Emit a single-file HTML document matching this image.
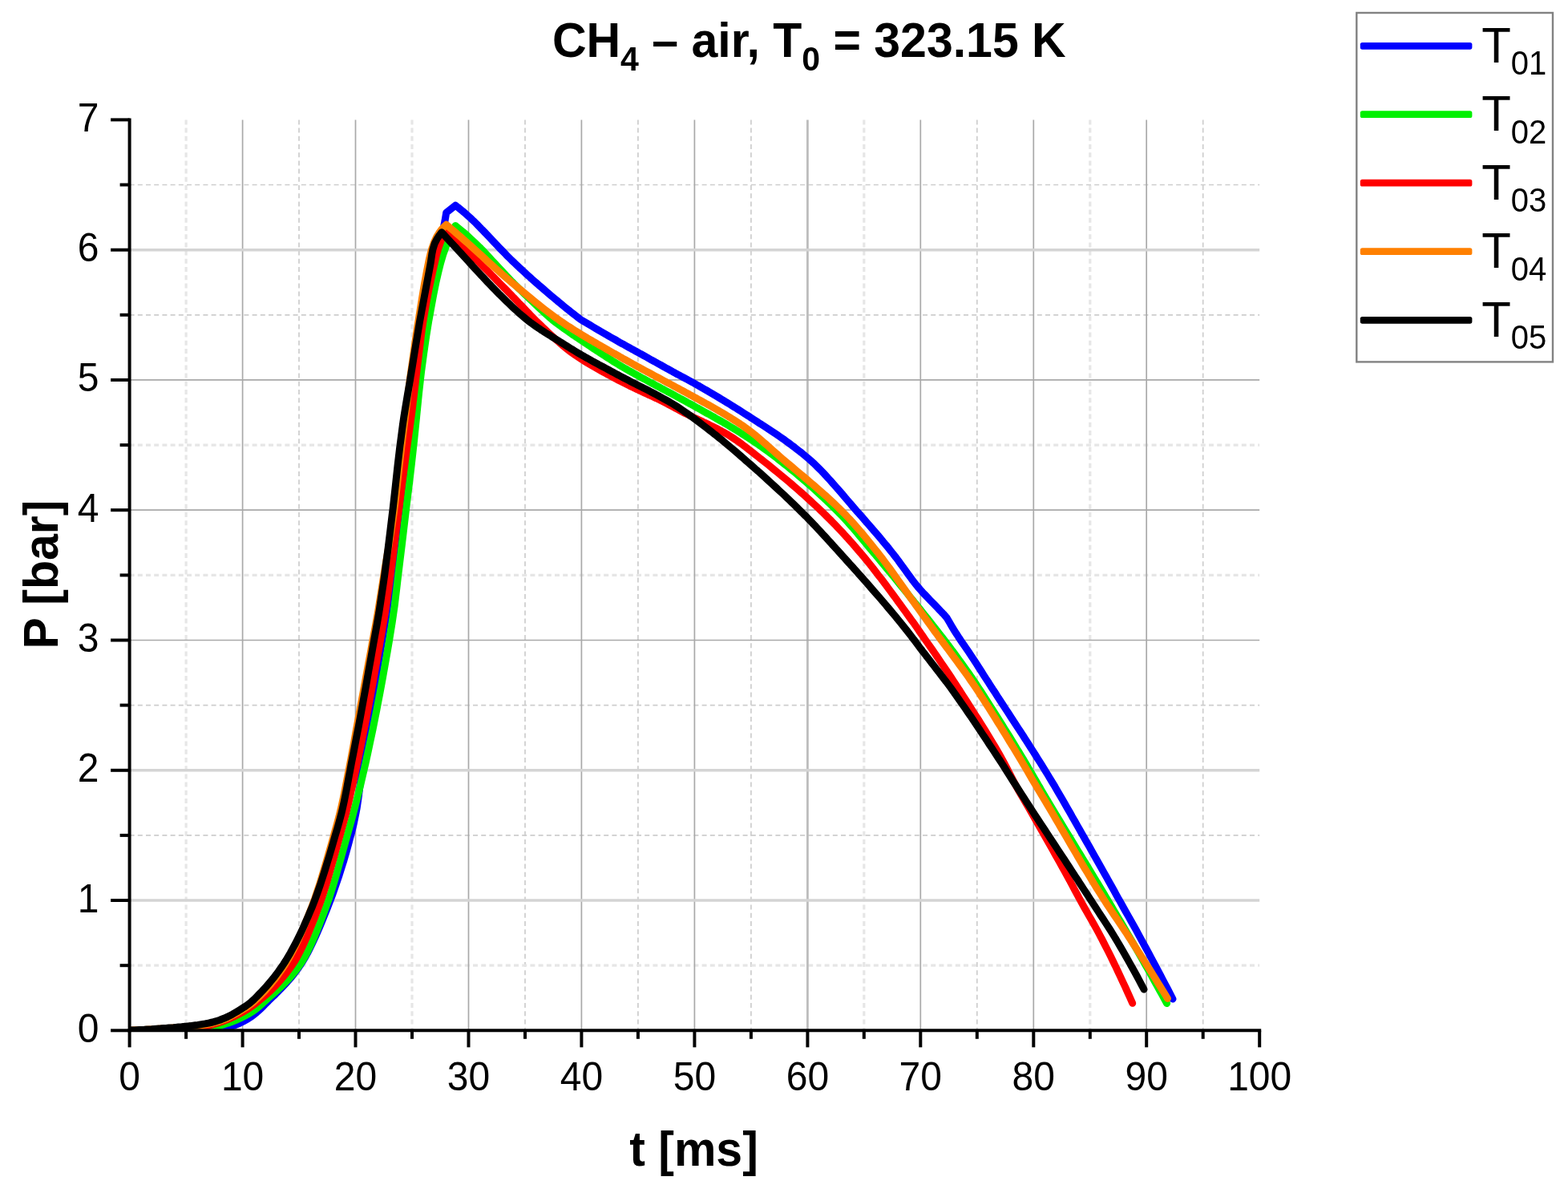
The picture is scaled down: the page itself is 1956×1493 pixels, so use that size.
<!DOCTYPE html>
<html lang="en"><head><meta charset="utf-8"><title>CH4 – air, T0 = 323.15 K</title>
<style>
html,body{margin:0;padding:0;background:#fff;}
body{width:1956px;height:1493px;overflow:hidden;}
svg{display:block;}
text{font-family:"Liberation Sans", Arial, Helvetica, sans-serif;fill:#000;}
.tick{font-size:48px;}
.lbl{font-size:59px;font-weight:bold;}
.leg{font-size:60px;}
</style></head><body>
<svg xmlns="http://www.w3.org/2000/svg" width="1956" height="1493" viewBox="0 0 1956 1493">
<rect x="0" y="0" width="1956" height="1493" fill="#ffffff"/>
<defs><filter id="soft" x="0" y="0" width="1956" height="1493" filterUnits="userSpaceOnUse" color-interpolation-filters="sRGB"><feGaussianBlur stdDeviation="0.75"/></filter></defs>
<g filter="url(#soft)">
<rect x="0" y="0" width="1956" height="1493" fill="#ffffff"/>
<g fill="none">
<line x1="232.1" y1="149.4" x2="232.1" y2="1285.3" stroke="#e6e6e6" stroke-width="3.2" stroke-dasharray="6 4.2"/>
<line x1="373.0" y1="149.4" x2="373.0" y2="1285.3" stroke="#cdcdcd" stroke-width="1.7" stroke-dasharray="6 4.2"/>
<line x1="514.0" y1="149.4" x2="514.0" y2="1285.3" stroke="#e6e6e6" stroke-width="3.2" stroke-dasharray="6 4.2"/>
<line x1="655.0" y1="149.4" x2="655.0" y2="1285.3" stroke="#cdcdcd" stroke-width="1.7" stroke-dasharray="6 4.2"/>
<line x1="795.9" y1="149.4" x2="795.9" y2="1285.3" stroke="#cdcdcd" stroke-width="1.7" stroke-dasharray="6 4.2"/>
<line x1="936.9" y1="149.4" x2="936.9" y2="1285.3" stroke="#cdcdcd" stroke-width="1.7" stroke-dasharray="6 4.2"/>
<line x1="1077.8" y1="149.4" x2="1077.8" y2="1285.3" stroke="#e6e6e6" stroke-width="3.2" stroke-dasharray="6 4.2"/>
<line x1="1218.8" y1="149.4" x2="1218.8" y2="1285.3" stroke="#cdcdcd" stroke-width="1.7" stroke-dasharray="6 4.2"/>
<line x1="1359.8" y1="149.4" x2="1359.8" y2="1285.3" stroke="#e6e6e6" stroke-width="3.2" stroke-dasharray="6 4.2"/>
<line x1="1500.7" y1="149.4" x2="1500.7" y2="1285.3" stroke="#cdcdcd" stroke-width="1.7" stroke-dasharray="6 4.2"/>
<line x1="161.6" y1="1204.2" x2="1571.2" y2="1204.2" stroke="#e6e6e6" stroke-width="3.2" stroke-dasharray="6 4.2"/>
<line x1="161.6" y1="1041.9" x2="1571.2" y2="1041.9" stroke="#cdcdcd" stroke-width="1.7" stroke-dasharray="6 4.2"/>
<line x1="161.6" y1="879.6" x2="1571.2" y2="879.6" stroke="#cdcdcd" stroke-width="1.7" stroke-dasharray="6 4.2"/>
<line x1="161.6" y1="717.4" x2="1571.2" y2="717.4" stroke="#e6e6e6" stroke-width="3.2" stroke-dasharray="6 4.2"/>
<line x1="161.6" y1="555.1" x2="1571.2" y2="555.1" stroke="#e6e6e6" stroke-width="3.2" stroke-dasharray="6 4.2"/>
<line x1="161.6" y1="392.8" x2="1571.2" y2="392.8" stroke="#cdcdcd" stroke-width="1.7" stroke-dasharray="6 4.2"/>
<line x1="161.6" y1="230.5" x2="1571.2" y2="230.5" stroke="#cdcdcd" stroke-width="1.7" stroke-dasharray="6 4.2"/>
<line x1="302.6" y1="149.4" x2="302.6" y2="1285.3" stroke="#a9a9a9" stroke-width="1.7"/>
<line x1="443.5" y1="149.4" x2="443.5" y2="1285.3" stroke="#a9a9a9" stroke-width="1.7"/>
<line x1="584.5" y1="149.4" x2="584.5" y2="1285.3" stroke="#a9a9a9" stroke-width="1.7"/>
<line x1="725.4" y1="149.4" x2="725.4" y2="1285.3" stroke="#a9a9a9" stroke-width="1.7"/>
<line x1="866.4" y1="149.4" x2="866.4" y2="1285.3" stroke="#a9a9a9" stroke-width="1.7"/>
<line x1="1007.4" y1="149.4" x2="1007.4" y2="1285.3" stroke="#bdbdbd" stroke-width="2.8"/>
<line x1="1148.3" y1="149.4" x2="1148.3" y2="1285.3" stroke="#a9a9a9" stroke-width="1.7"/>
<line x1="1289.3" y1="149.4" x2="1289.3" y2="1285.3" stroke="#a9a9a9" stroke-width="1.7"/>
<line x1="1430.2" y1="149.4" x2="1430.2" y2="1285.3" stroke="#a9a9a9" stroke-width="1.7"/>
<line x1="161.6" y1="1123.0" x2="1571.2" y2="1123.0" stroke="#d4d4d4" stroke-width="3.6"/>
<line x1="161.6" y1="960.8" x2="1571.2" y2="960.8" stroke="#d4d4d4" stroke-width="3.6"/>
<line x1="161.6" y1="798.5" x2="1571.2" y2="798.5" stroke="#a9a9a9" stroke-width="1.7"/>
<line x1="161.6" y1="636.2" x2="1571.2" y2="636.2" stroke="#a9a9a9" stroke-width="1.7"/>
<line x1="161.6" y1="473.9" x2="1571.2" y2="473.9" stroke="#a9a9a9" stroke-width="1.7"/>
<line x1="161.6" y1="311.7" x2="1571.2" y2="311.7" stroke="#d4d4d4" stroke-width="3.6"/>
</g>
<defs><clipPath id="plotclip"><rect x="161.6" y="149.4" width="1409.6" height="1135.9"/></clipPath></defs>
<g fill="none" stroke-width="9.0" stroke-linecap="round" stroke-linejoin="round" clip-path="url(#plotclip)">
<polyline stroke="#0000ff" points="161.6,1285.3 164.6,1285.3 167.7,1285.3 170.7,1285.3 173.8,1285.3 176.8,1285.3 179.8,1285.2 182.9,1285.2 185.9,1285.2 189.0,1285.2 192.0,1285.1 195.0,1285.1 198.1,1285.0 201.1,1285.0 204.1,1284.9 207.2,1284.9 210.2,1284.8 213.3,1284.8 216.3,1284.7 219.3,1284.6 222.4,1284.6 225.4,1284.5 228.5,1284.4 231.5,1284.3 234.5,1284.2 237.6,1284.1 240.6,1284.0 243.7,1283.9 246.7,1283.8 249.7,1283.7 252.8,1283.6 255.8,1283.5 258.9,1283.4 261.9,1283.2 264.9,1283.1 268.0,1283.0 270.0,1282.9 271.0,1282.8 274.1,1282.6 277.1,1282.2 280.1,1281.8 283.2,1281.3 284.9,1280.9 286.2,1280.7 289.2,1279.9 292.3,1278.9 295.3,1277.8 295.8,1277.6 298.4,1276.6 301.4,1275.1 304.4,1273.5 307.5,1271.8 307.8,1271.6 310.5,1269.9 313.6,1267.9 316.6,1265.6 319.6,1263.2 319.7,1263.1 322.7,1260.6 325.7,1257.7 328.8,1254.7 331.7,1251.7 331.8,1251.7 334.8,1248.6 337.9,1245.6 340.9,1242.6 344.0,1239.7 347.0,1236.6 350.0,1233.6 353.1,1230.4 356.1,1227.2 359.1,1223.8 362.2,1220.3 365.2,1216.6 368.3,1212.7 371.3,1208.6 374.3,1204.2 374.7,1203.7 377.4,1199.6 380.4,1194.4 383.5,1188.9 386.5,1183.0 389.5,1176.8 392.6,1170.2 395.6,1163.4 398.7,1156.3 401.7,1149.1 404.7,1141.6 407.8,1134.0 409.5,1129.7 410.8,1126.2 413.9,1118.2 416.9,1109.8 419.9,1101.1 423.0,1092.0 426.0,1082.5 429.1,1072.6 432.1,1062.2 435.1,1051.3 437.8,1041.2 438.2,1039.9 441.2,1027.6 444.2,1013.2 445.2,1007.9 447.3,993.7 450.3,969.1 451.5,960.5 453.4,946.7 456.4,925.1 459.4,904.2 462.2,886.1 462.5,884.2 465.5,865.3 468.6,847.2 471.6,829.4 474.6,811.6 477.0,797.4 477.7,793.4 480.7,775.1 482.5,763.9 483.8,754.9 486.8,731.9 488.8,716.9 489.8,709.4 492.9,687.9 495.9,666.4 499.0,644.1 499.2,641.9 502.0,620.1 505.0,594.7 508.1,568.8 511.1,543.0 513.9,520.0 514.2,518.0 517.2,492.7 519.8,473.8 520.2,471.2 523.3,456.1 526.3,442.7 528.7,429.9 529.3,425.7 532.4,402.1 532.9,398.1 535.4,380.1 538.5,358.8 541.5,340.1 541.5,339.8 544.5,323.6 547.1,311.0 547.6,309.0 550.6,295.7 551.9,290.0 553.7,282.0 555.1,275.0 556.7,265.3 568.1,256.2 571.2,258.5 574.2,261.0 577.3,263.5 580.4,266.2 583.4,268.9 586.5,271.6 589.5,274.5 591.6,276.4 592.6,277.4 595.7,280.5 598.7,283.6 600.1,285.1 601.8,286.8 604.9,290.0 607.9,293.2 611.0,296.4 614.0,299.6 617.1,302.9 620.2,306.1 623.2,309.3 626.3,312.5 629.4,315.7 632.4,318.8 635.5,321.9 638.5,324.9 640.6,326.8 641.6,327.8 644.7,330.7 647.7,333.6 650.8,336.4 653.9,339.3 656.9,342.1 660.0,344.8 663.0,347.6 666.1,350.3 669.2,353.0 672.2,355.7 675.3,358.3 678.4,361.0 681.4,363.6 684.5,366.2 687.5,368.8 690.6,371.4 693.7,373.9 696.7,376.5 699.8,379.0 700.4,379.5 702.9,381.6 705.9,384.1 709.0,386.5 712.0,389.0 715.1,391.4 718.2,393.8 721.2,396.1 724.3,398.5 727.3,400.3 730.4,402.1 733.4,403.9 736.4,405.7 739.4,407.5 742.5,409.3 745.5,411.1 748.5,412.9 751.5,414.6 754.6,416.4 757.6,418.1 760.6,419.9 763.6,421.6 766.7,423.3 769.7,425.0 770.2,425.3 772.7,426.8 775.7,428.5 778.8,430.1 781.8,431.8 784.8,433.5 787.8,435.2 790.9,436.8 793.9,438.5 796.9,440.2 798.9,441.2 799.9,441.8 803.0,443.5 806.0,445.2 809.0,446.9 812.0,448.6 815.1,450.3 818.1,451.9 821.1,453.6 824.2,455.3 827.2,457.0 830.2,458.7 833.2,460.3 836.3,462.0 839.3,463.7 842.3,465.3 845.3,467.0 848.4,468.6 850.2,469.6 851.4,470.2 854.4,471.8 857.4,473.4 859.7,474.7 860.5,475.1 863.5,476.7 866.5,478.4 869.5,480.1 872.6,481.8 875.6,483.6 878.6,485.3 881.6,487.0 884.7,488.8 887.7,490.6 890.7,492.4 893.7,494.2 896.8,496.0 899.8,497.8 902.8,499.6 905.8,501.5 908.9,503.3 911.9,505.2 914.9,507.1 918.0,509.0 921.0,510.9 924.0,512.8 927.0,514.7 929.6,516.4 930.1,516.7 933.1,518.6 936.1,520.6 939.1,522.5 942.2,524.5 945.2,526.4 948.2,528.4 951.2,530.3 954.3,532.3 957.3,534.2 960.3,536.2 963.3,538.2 966.4,540.3 969.4,542.3 972.4,544.4 975.4,546.5 978.5,548.6 981.5,550.8 984.5,553.0 987.5,555.3 990.6,557.5 993.6,559.9 996.6,562.2 999.7,564.6 1002.7,567.1 1005.7,569.6 1008.7,572.2 1009.2,572.6 1011.8,574.9 1014.8,577.6 1017.8,580.5 1020.8,583.5 1023.9,586.5 1026.9,589.7 1029.9,592.9 1032.9,596.2 1036.0,599.5 1039.0,602.9 1042.0,606.4 1045.0,609.8 1048.1,613.3 1051.1,616.8 1054.1,620.4 1057.1,623.9 1060.2,627.4 1063.2,631.0 1066.2,634.5 1069.2,637.9 1071.3,640.3 1072.3,641.4 1075.3,644.8 1078.3,648.3 1081.3,651.7 1084.4,655.2 1087.4,658.7 1090.4,662.2 1093.5,665.8 1096.5,669.3 1099.5,672.9 1102.5,676.6 1105.6,680.2 1108.6,683.9 1111.6,687.7 1113.9,690.5 1114.6,691.5 1117.7,695.4 1120.7,699.4 1123.7,703.6 1126.7,707.7 1129.8,711.9 1132.8,716.1 1135.8,720.2 1138.8,724.3 1141.9,728.2 1144.9,731.9 1145.4,732.5 1147.9,735.4 1150.9,738.8 1154.0,742.0 1157.0,745.2 1160.0,748.3 1163.0,751.4 1166.1,754.5 1169.1,757.6 1172.1,760.8 1175.1,764.0 1176.7,765.6 1178.2,767.3 1181.2,770.8 1184.3,776.1 1187.3,781.2 1190.4,786.3 1193.1,790.6 1193.5,791.1 1196.5,795.8 1199.6,800.4 1202.6,804.8 1205.7,809.3 1208.8,813.8 1209.5,814.8 1211.8,818.4 1214.9,823.1 1218.0,827.8 1221.0,832.5 1224.1,837.3 1227.1,842.1 1230.2,846.9 1233.3,851.6 1236.3,856.4 1238.5,859.8 1239.4,861.1 1242.5,865.8 1245.5,870.6 1248.6,875.3 1251.7,880.0 1254.7,884.6 1257.8,889.3 1260.8,894.0 1263.9,898.7 1267.0,903.4 1270.0,908.1 1273.1,912.8 1276.2,917.5 1279.2,922.3 1282.3,927.0 1285.3,931.8 1288.4,936.6 1291.5,941.5 1294.5,946.3 1294.5,946.3 1297.6,951.2 1300.7,956.1 1303.7,961.0 1306.8,966.0 1309.8,971.0 1312.9,976.1 1316.0,981.2 1316.5,982.1 1319.0,986.4 1322.1,991.7 1325.2,997.0 1326.9,1000.0 1328.2,1002.3 1331.3,1007.7 1334.4,1013.0 1337.4,1018.4 1340.5,1023.7 1343.5,1029.1 1346.6,1034.5 1349.7,1039.9 1352.7,1045.3 1355.8,1050.7 1358.9,1056.1 1361.9,1061.5 1365.0,1066.9 1368.0,1072.3 1371.1,1077.8 1374.2,1083.2 1377.2,1088.7 1380.3,1094.1 1383.1,1099.1 1383.4,1099.6 1386.4,1105.0 1389.5,1110.5 1392.5,1116.1 1395.6,1121.6 1395.8,1121.9 1398.7,1127.0 1401.7,1132.5 1404.8,1137.9 1407.9,1143.4 1410.9,1148.8 1414.0,1154.3 1417.1,1159.8 1420.1,1165.4 1422.8,1170.3 1423.2,1171.0 1426.2,1176.6 1429.3,1182.2 1432.4,1187.9 1435.4,1193.6 1438.5,1199.3 1441.6,1205.1 1444.6,1210.8 1447.7,1216.6 1450.7,1222.5 1453.8,1228.3 1456.9,1234.2 1459.9,1240.1 1463.0,1246.0"/>
<polyline stroke="#00f000" points="161.6,1285.3 164.6,1285.3 167.7,1285.3 170.7,1285.3 173.7,1285.3 176.8,1285.2 179.8,1285.2 182.8,1285.2 185.9,1285.2 188.9,1285.1 191.9,1285.1 195.0,1285.0 198.0,1285.0 201.0,1284.9 204.1,1284.8 207.1,1284.8 210.1,1284.7 213.2,1284.6 216.2,1284.5 219.2,1284.4 222.3,1284.3 225.3,1284.2 228.3,1284.1 231.4,1284.0 234.4,1283.8 237.4,1283.7 240.5,1283.6 243.5,1283.4 246.5,1283.3 249.6,1283.1 252.6,1282.9 255.6,1282.8 258.7,1282.6 260.0,1282.5 261.7,1282.3 264.7,1281.9 267.8,1281.2 270.8,1280.4 273.8,1279.5 276.9,1278.5 279.9,1277.6 279.9,1277.6 282.9,1276.6 286.0,1275.6 289.0,1274.5 292.0,1273.3 295.1,1272.0 298.1,1270.7 301.1,1269.3 301.7,1269.1 304.2,1267.8 307.2,1266.2 310.2,1264.5 313.3,1262.7 316.3,1260.7 319.3,1258.5 319.7,1258.3 322.4,1256.1 325.4,1253.4 327.0,1252.0 328.4,1250.6 331.5,1247.8 334.5,1245.2 337.5,1242.5 340.6,1239.8 343.6,1237.1 346.6,1234.4 349.7,1231.5 352.7,1228.6 355.7,1225.6 358.8,1222.4 361.8,1219.1 364.9,1215.5 367.9,1211.8 370.9,1207.9 373.9,1203.7 374.0,1203.6 377.0,1199.0 380.0,1193.8 383.1,1188.1 386.1,1181.9 389.1,1175.3 392.2,1168.4 395.2,1161.1 398.2,1153.5 401.3,1145.7 404.3,1137.7 407.2,1129.7 407.3,1129.5 410.4,1120.9 413.4,1111.5 416.4,1101.6 419.5,1091.2 422.5,1080.4 425.5,1069.5 428.6,1058.4 431.6,1047.5 433.3,1041.4 434.6,1036.7 437.7,1025.7 440.7,1014.5 442.4,1008.0 443.7,1002.9 446.8,990.9 449.8,978.6 452.8,965.8 454.1,960.3 455.9,952.5 458.9,938.8 461.9,924.6 465.0,910.0 468.0,894.9 469.8,885.9 471.0,879.5 474.1,863.5 477.1,847.1 480.1,830.2 483.2,812.8 485.8,797.4 486.2,794.9 489.2,776.2 491.0,763.9 492.3,754.8 495.3,729.7 496.8,716.8 498.3,704.4 501.4,679.2 504.4,653.7 505.8,642.0 507.4,628.2 510.5,603.2 513.5,577.6 516.0,554.8 516.5,550.2 519.6,520.0 519.6,520.0 522.6,489.8 524.4,473.8 525.6,463.5 528.7,440.4 531.7,419.6 534.7,400.8 535.2,398.1 537.8,383.6 540.8,367.5 543.8,352.5 546.9,339.0 549.6,328.1 549.9,327.1 552.9,317.0 554.9,311.4 556.0,308.5 559.0,300.6 562.0,293.4 565.1,287.0 568.1,281.5 571.1,283.9 574.1,286.4 577.2,288.9 580.2,291.5 583.2,294.2 586.2,297.0 589.2,299.8 592.2,302.6 595.3,305.5 598.3,308.4 599.4,309.6 601.3,311.4 604.3,314.6 607.3,317.9 610.4,321.2 613.4,324.5 614.6,325.8 616.4,327.7 619.4,330.9 622.4,334.1 625.5,337.4 628.5,340.6 631.5,343.8 634.5,346.9 637.5,350.1 640.2,352.8 640.5,353.2 643.6,356.2 646.6,359.2 649.6,362.1 652.6,365.1 655.6,368.0 658.7,370.8 660.1,372.2 661.7,373.7 664.7,376.6 667.7,379.4 670.7,382.3 673.8,385.1 676.8,387.9 679.8,390.7 682.8,393.4 685.8,396.1 688.8,398.7 691.9,401.2 692.4,401.6 694.9,403.5 697.9,405.7 700.0,407.2 700.9,407.9 703.9,410.0 707.0,412.2 710.0,414.3 713.0,416.4 716.0,418.4 719.0,420.5 722.1,422.5 725.1,424.6 728.1,426.6 731.1,428.6 734.1,430.6 737.1,432.6 740.2,434.6 743.2,436.6 746.2,438.5 749.2,440.5 751.6,442.1 752.2,442.5 755.3,444.4 758.3,446.4 761.3,448.3 764.3,450.3 767.3,452.1 770.4,454.0 770.4,454.0 773.4,455.8 776.4,457.6 779.4,459.3 782.4,461.0 785.4,462.8 788.5,464.5 791.5,466.2 794.5,467.8 797.5,469.5 800.5,471.2 803.6,472.8 806.6,474.4 809.6,476.1 812.6,477.7 815.6,479.3 818.7,480.9 821.7,482.5 824.7,484.2 827.7,485.8 830.7,487.4 833.7,489.0 836.8,490.6 839.8,492.2 842.8,493.9 845.8,495.5 848.8,497.1 850.0,497.8 851.9,498.8 854.9,500.4 857.9,502.1 857.9,502.1 860.9,503.7 863.9,505.4 867.0,507.1 870.0,508.8 873.0,510.4 876.0,512.1 879.0,513.8 882.0,515.5 885.1,517.1 888.1,518.8 891.1,520.5 894.1,522.3 897.1,524.0 900.2,525.7 903.2,527.5 906.2,529.2 909.2,531.0 912.2,532.8 915.3,534.6 918.3,536.5 921.3,538.3 924.3,540.2 927.3,542.1 928.2,542.7 930.3,544.1 933.4,546.0 936.4,548.0 939.4,550.0 942.4,552.1 945.4,554.1 948.5,556.2 951.5,558.4 954.5,560.5 957.5,562.7 960.5,564.9 963.6,567.2 966.6,569.5 969.6,571.8 970.7,572.6 972.6,574.1 975.6,576.5 978.6,578.9 981.7,581.3 984.7,583.7 987.7,586.2 990.7,588.6 993.7,591.1 996.8,593.7 999.8,596.2 1002.8,598.8 1005.8,601.4 1008.8,604.1 1011.8,606.7 1014.9,609.4 1017.9,612.1 1020.9,614.9 1023.9,617.7 1026.9,620.5 1030.0,623.3 1033.0,626.2 1036.0,629.1 1039.0,632.1 1042.0,635.0 1045.1,638.1 1047.5,640.6 1048.1,641.1 1051.1,644.2 1054.1,647.5 1057.1,650.8 1060.1,654.2 1063.2,657.6 1066.2,661.1 1069.2,664.7 1072.2,668.3 1075.2,671.9 1078.3,675.5 1081.3,679.1 1084.3,682.8 1087.3,686.4 1090.3,690.0 1090.5,690.2 1093.4,693.6 1096.4,697.2 1099.4,700.8 1102.4,704.4 1105.4,708.0 1108.4,711.7 1111.5,715.3 1114.5,719.0 1117.5,722.7 1120.5,726.4 1123.5,730.1 1126.6,733.8 1129.6,737.5 1132.6,741.2 1135.6,745.0 1138.6,748.7 1141.0,751.6 1141.7,752.4 1144.7,756.2 1147.7,759.9 1150.7,763.7 1153.7,767.5 1156.7,771.2 1159.8,775.0 1162.8,778.9 1165.8,782.7 1168.8,786.5 1171.8,790.4 1173.9,793.1 1174.9,794.3 1177.9,798.2 1180.9,802.2 1183.9,806.1 1186.9,810.2 1188.4,812.1 1190.0,814.2 1193.0,818.3 1196.0,822.5 1199.0,826.6 1202.0,830.8 1205.0,835.0 1208.1,839.3 1211.1,843.7 1212.8,846.1 1214.1,848.1 1217.1,852.6 1220.1,857.2 1222.0,860.0 1223.2,861.8 1226.2,866.5 1229.2,871.2 1232.2,875.9 1235.2,880.6 1238.3,885.4 1241.3,890.1 1244.3,894.9 1247.3,899.7 1250.3,904.5 1253.3,909.3 1256.4,914.2 1259.4,919.0 1262.4,923.9 1265.4,928.8 1268.4,933.8 1271.5,938.7 1274.5,943.7 1276.1,946.3 1277.5,948.7 1280.5,953.8 1283.5,959.0 1286.6,964.1 1289.6,969.4 1292.6,974.6 1295.6,979.7 1296.9,981.9 1298.6,984.9 1301.6,990.0 1304.7,995.2 1307.5,999.9 1307.7,1000.3 1310.7,1005.3 1313.7,1010.4 1316.7,1015.4 1319.8,1020.4 1322.8,1025.4 1325.8,1030.3 1328.8,1035.3 1331.8,1040.2 1334.9,1045.2 1337.9,1050.1 1340.9,1055.1 1343.9,1060.0 1346.9,1064.9 1349.9,1069.9 1353.0,1074.8 1356.0,1079.8 1359.0,1084.8 1362.0,1089.8 1365.0,1094.8 1367.6,1099.1 1368.1,1099.8 1371.1,1104.8 1374.1,1109.8 1377.1,1114.9 1380.1,1120.0 1381.3,1121.9 1383.2,1125.0 1386.2,1130.1 1389.2,1135.2 1392.2,1140.3 1395.2,1145.3 1398.2,1150.4 1401.3,1155.6 1404.3,1160.7 1407.3,1165.9 1409.8,1170.3 1410.3,1171.1 1413.3,1176.3 1416.4,1181.6 1419.4,1186.8 1422.4,1192.1 1425.4,1197.4 1428.4,1202.7 1431.5,1208.1 1434.5,1213.4 1437.5,1218.8 1440.5,1224.2 1443.5,1229.6 1446.5,1235.1 1449.6,1240.5 1452.6,1246.0 1455.6,1251.5"/>
<polyline stroke="#ff0000" points="161.6,1285.3 164.6,1285.3 167.7,1285.3 170.7,1285.3 173.8,1285.2 176.8,1285.2 179.8,1285.2 182.9,1285.1 185.9,1285.1 188.9,1285.0 192.0,1284.9 195.0,1284.8 198.1,1284.7 201.1,1284.6 204.1,1284.5 207.2,1284.4 210.2,1284.3 213.2,1284.2 216.3,1284.1 219.3,1283.9 222.4,1283.8 225.4,1283.6 228.4,1283.5 231.5,1283.3 234.5,1283.1 237.5,1282.9 239.9,1282.8 240.6,1282.8 243.6,1282.5 246.7,1282.1 249.7,1281.6 252.7,1281.0 255.8,1280.3 258.8,1279.6 261.8,1278.8 264.9,1278.0 267.8,1277.2 267.9,1277.2 271.0,1276.3 274.0,1275.3 277.0,1274.3 280.1,1273.1 283.1,1271.9 286.1,1270.6 289.2,1269.2 292.2,1267.8 295.3,1266.3 298.3,1264.7 301.3,1263.1 301.6,1263.0 304.4,1261.5 307.4,1259.7 310.4,1257.7 313.5,1255.6 316.5,1253.4 319.1,1251.4 319.6,1251.0 322.6,1248.6 325.6,1246.1 328.7,1243.5 331.7,1240.9 334.7,1238.1 337.8,1235.3 340.8,1232.3 343.9,1229.2 346.9,1225.9 349.9,1222.5 353.0,1218.9 356.0,1215.2 359.0,1211.3 362.1,1207.1 364.5,1203.7 365.1,1202.8 368.2,1198.0 371.2,1192.7 374.2,1186.9 377.3,1180.7 380.3,1174.1 383.4,1167.1 386.4,1159.8 389.4,1152.3 392.5,1144.5 395.5,1136.5 398.0,1129.7 398.5,1128.4 401.6,1119.7 404.6,1110.4 407.7,1100.4 410.7,1090.1 413.7,1079.4 416.8,1068.5 419.8,1057.5 422.8,1046.5 424.3,1041.4 425.9,1035.6 428.9,1024.6 432.0,1013.0 433.2,1007.9 435.0,1000.6 438.0,987.2 441.1,973.3 443.8,960.4 444.1,959.0 447.1,944.6 450.2,929.8 453.2,914.7 456.3,899.3 458.8,885.9 459.3,883.4 462.3,867.1 465.4,850.3 468.4,833.2 471.4,815.9 474.5,798.6 474.7,797.4 477.5,781.5 480.5,763.9 480.6,763.4 483.6,742.6 486.6,720.2 487.1,716.8 489.7,697.1 492.7,673.1 495.7,649.1 496.7,642.0 498.8,625.6 501.8,602.1 504.9,578.9 507.9,556.3 508.1,554.9 510.9,535.1 513.0,519.9 514.0,512.6 517.0,487.1 518.6,473.7 520.0,462.0 523.1,436.7 526.1,412.9 528.3,398.1 529.2,392.8 532.2,375.5 535.2,359.9 538.3,345.5 541.3,331.9 542.2,328.0 544.3,318.5 546.3,311.5 547.4,308.0 550.4,299.5 553.5,292.6 556.5,288.0 559.5,290.8 562.5,293.7 565.5,296.5 568.6,299.4 571.6,302.3 574.6,305.2 577.6,308.1 580.6,311.0 583.6,313.9 586.6,316.8 589.7,319.7 592.7,322.7 595.7,325.6 598.7,328.6 599.8,329.6 601.7,331.6 604.7,334.6 607.8,337.6 610.8,340.6 613.8,343.6 616.8,346.7 619.8,349.7 622.8,352.8 625.8,355.9 628.9,359.0 631.9,362.0 634.9,365.1 637.9,368.2 639.7,370.1 640.9,371.3 643.9,374.4 646.9,377.6 650.0,380.7 653.0,383.9 656.0,387.1 659.0,390.2 662.0,393.3 665.0,396.4 668.0,399.4 670.1,401.4 671.1,402.4 674.1,405.3 677.1,408.2 680.1,411.1 683.1,414.0 686.1,416.8 689.2,419.6 692.2,422.3 695.2,425.0 698.2,427.6 700.1,429.2 701.2,430.2 704.2,432.7 707.2,435.2 710.3,437.6 713.3,439.9 715.3,441.3 716.3,442.0 719.3,444.0 722.3,446.0 725.3,448.0 728.3,449.9 731.4,451.8 734.4,453.6 737.4,455.4 740.4,457.2 743.4,458.9 746.4,460.6 749.4,462.3 752.5,464.0 755.5,465.6 758.5,467.3 761.5,468.9 764.5,470.5 767.5,472.1 770.4,473.6 770.5,473.7 773.6,475.3 776.6,476.8 779.6,478.3 782.6,479.8 785.6,481.3 788.6,482.7 791.7,484.2 794.7,485.6 797.7,487.0 800.7,488.4 803.7,489.8 806.7,491.2 809.7,492.6 812.8,494.0 815.8,495.4 818.8,496.8 821.8,498.3 824.8,499.8 827.8,501.3 830.6,502.7 830.8,502.8 833.9,504.4 836.9,506.0 839.9,507.6 842.9,509.3 845.9,510.9 848.9,512.5 850.4,513.3 851.9,514.1 855.0,515.6 858.0,517.1 861.0,518.6 864.0,520.1 867.0,521.5 870.0,522.9 873.1,524.3 876.1,525.7 879.1,527.2 882.1,528.6 885.1,530.1 888.1,531.5 891.1,533.0 894.2,534.6 897.2,536.2 900.2,537.8 903.2,539.5 906.2,541.2 908.7,542.7 909.2,543.0 912.2,544.9 915.3,546.9 918.3,548.9 921.3,551.0 924.3,553.2 927.3,555.5 930.3,557.7 933.3,560.1 936.4,562.4 939.4,564.8 942.4,567.2 945.4,569.5 948.4,571.9 949.3,572.6 951.4,574.3 954.5,576.7 957.5,579.1 960.5,581.5 963.5,584.0 966.5,586.4 969.5,588.9 972.5,591.4 975.6,593.9 978.6,596.4 981.6,598.9 984.6,601.4 987.6,604.0 990.6,606.6 993.6,609.2 996.7,611.9 999.7,614.5 1002.7,617.2 1005.7,619.9 1008.7,622.6 1011.7,625.4 1014.7,628.2 1017.8,631.0 1020.8,633.8 1023.8,636.7 1026.8,639.6 1027.9,640.6 1029.8,642.5 1032.8,645.5 1035.9,648.5 1038.9,651.6 1041.9,654.7 1044.9,657.8 1047.9,661.0 1050.9,664.2 1053.9,667.5 1057.0,670.8 1060.0,674.2 1063.0,677.6 1066.0,681.0 1069.0,684.5 1072.0,688.0 1074.2,690.5 1075.0,691.5 1078.1,695.1 1081.1,698.8 1084.1,702.5 1087.1,706.3 1090.1,710.1 1093.1,714.0 1096.1,717.9 1099.2,721.8 1102.2,725.8 1105.2,729.8 1108.2,733.9 1111.2,737.9 1114.2,742.0 1117.3,746.1 1120.3,750.3 1123.3,754.4 1126.3,758.6 1129.3,762.7 1132.3,766.9 1135.3,771.0 1136.6,772.8 1138.4,775.2 1141.4,779.4 1144.4,783.7 1147.4,788.1 1150.4,792.4 1150.8,792.9 1153.4,796.7 1156.4,801.0 1159.5,805.3 1162.5,809.6 1164.2,812.1 1165.5,814.0 1168.5,818.4 1171.5,822.8 1174.5,827.2 1177.5,831.6 1180.6,836.1 1183.6,840.6 1186.6,845.1 1187.2,846.0 1189.6,849.7 1192.6,854.3 1195.6,858.9 1196.4,860.1 1198.7,863.6 1201.7,868.3 1204.7,873.0 1207.7,877.7 1210.7,882.4 1213.7,887.1 1216.7,891.8 1219.8,896.5 1222.8,901.3 1225.8,906.1 1228.8,910.9 1231.8,915.8 1234.8,920.8 1237.8,925.8 1240.9,930.9 1243.9,936.0 1246.9,941.3 1249.8,946.4 1249.9,946.6 1252.9,952.1 1255.9,957.9 1258.9,963.8 1262.0,969.8 1265.0,975.6 1268.0,981.2 1268.2,981.6 1271.0,986.6 1274.0,991.7 1277.0,996.8 1279.0,1000.3 1280.0,1002.0 1283.1,1007.3 1286.1,1012.5 1289.1,1017.8 1292.1,1023.0 1295.1,1028.3 1298.1,1033.6 1301.2,1038.9 1304.2,1044.2 1307.2,1049.5 1310.2,1054.8 1313.2,1060.1 1316.2,1065.5 1319.2,1070.9 1322.3,1076.3 1325.3,1081.7 1328.3,1087.1 1331.3,1092.6 1334.3,1098.1 1335.0,1099.3 1337.3,1103.6 1340.3,1109.3 1343.4,1115.0 1346.4,1120.6 1347.0,1121.7 1349.4,1126.1 1352.4,1131.5 1355.4,1136.8 1358.4,1142.1 1361.4,1147.3 1364.5,1152.7 1367.5,1158.1 1370.5,1163.6 1373.5,1169.3 1374.1,1170.4 1376.5,1175.1 1379.5,1181.0 1382.6,1187.0 1385.6,1193.0 1388.6,1199.2 1391.6,1205.4 1394.6,1211.7 1397.6,1218.1 1400.6,1224.6 1403.7,1231.1 1406.7,1237.8 1409.7,1244.5 1412.7,1251.3"/>
<polyline stroke="#ff8000" points="161.6,1285.3 164.6,1285.2 167.7,1285.0 170.7,1284.9 173.8,1284.7 176.8,1284.6 179.8,1284.4 182.9,1284.2 185.9,1284.0 189.0,1283.9 192.0,1283.7 195.0,1283.5 198.1,1283.3 200.0,1283.2 201.1,1283.1 204.1,1282.9 207.2,1282.7 210.2,1282.5 213.3,1282.3 216.3,1282.1 219.3,1281.9 222.4,1281.7 225.4,1281.4 228.5,1281.2 231.4,1280.9 231.5,1280.9 234.5,1280.6 237.6,1280.3 240.6,1280.0 243.7,1279.7 246.7,1279.3 249.7,1278.9 252.8,1278.5 255.8,1278.0 258.9,1277.5 261.5,1277.0 261.9,1276.9 264.9,1276.3 268.0,1275.5 271.0,1274.6 274.1,1273.6 277.1,1272.5 279.7,1271.6 280.1,1271.4 283.2,1270.1 286.2,1268.7 289.2,1267.1 292.3,1265.4 295.3,1263.7 298.4,1261.8 301.4,1260.0 301.9,1259.7 304.4,1258.2 307.5,1256.3 310.5,1254.2 313.6,1251.9 314.1,1251.4 316.6,1249.4 319.6,1246.7 322.7,1243.9 325.7,1240.9 328.8,1237.7 331.8,1234.4 334.8,1230.9 337.9,1227.3 340.9,1223.5 344.0,1219.6 347.0,1215.5 350.0,1211.2 353.1,1206.8 355.1,1203.7 356.1,1202.1 359.1,1197.2 362.2,1191.8 365.2,1186.0 368.3,1179.9 371.3,1173.5 374.3,1166.8 377.4,1159.8 380.4,1152.5 383.5,1145.0 386.5,1137.3 389.5,1129.7 389.5,1129.5 392.6,1121.2 395.6,1112.3 398.7,1102.9 401.7,1093.1 404.7,1083.0 407.8,1072.5 410.8,1061.9 413.9,1051.2 416.6,1041.4 416.9,1040.4 419.9,1029.6 423.0,1018.2 425.5,1007.8 426.0,1005.7 429.1,991.5 432.1,976.2 435.1,960.5 435.2,960.4 438.2,944.6 441.2,928.2 444.2,911.6 447.3,894.9 448.9,886.0 450.3,878.4 453.4,861.9 456.4,845.4 459.4,829.0 462.5,812.5 465.2,797.4 465.5,795.9 468.6,779.6 471.4,763.9 471.6,762.7 474.6,744.1 477.7,724.7 478.9,716.9 480.7,706.0 483.8,688.1 486.8,669.9 489.8,650.1 491.0,641.9 492.9,627.4 495.9,601.0 499.0,573.6 501.1,554.9 502.0,547.9 505.0,523.9 505.5,520.0 508.1,499.4 511.1,475.5 511.3,473.7 514.2,453.2 517.2,431.8 520.2,411.4 522.3,398.1 523.3,392.1 526.3,373.2 529.3,355.2 532.4,338.4 534.5,328.0 535.4,323.4 538.3,311.4 538.5,311.0 541.5,302.4 543.9,297.2 544.5,295.9 547.6,290.7 550.0,287.4 550.6,286.5 553.7,283.0 556.7,280.2 559.7,282.7 562.7,285.3 565.8,287.9 568.8,290.5 571.8,293.1 574.8,295.7 577.8,298.4 580.9,301.1 583.9,303.7 586.9,306.4 589.9,309.1 592.9,311.8 596.0,314.6 599.0,317.3 599.8,318.0 602.0,320.1 605.0,322.9 608.0,325.7 609.3,326.8 611.1,328.4 614.1,331.1 617.1,333.8 620.1,336.5 623.1,339.2 626.1,341.8 629.2,344.5 632.2,347.1 635.2,349.7 638.2,352.2 640.4,354.0 641.2,354.7 644.3,357.2 647.3,359.8 650.3,362.3 653.3,364.8 656.3,367.3 659.4,369.8 662.4,372.3 665.4,374.7 668.4,377.2 671.4,379.6 674.5,382.0 677.5,384.4 680.5,386.7 683.5,389.0 686.5,391.3 689.6,393.6 692.6,395.8 695.6,397.9 698.6,400.1 700.8,401.5 701.6,402.1 704.7,404.2 707.7,406.2 710.7,408.1 713.7,410.1 716.7,412.0 719.8,413.9 722.8,415.7 725.8,417.6 728.8,419.4 731.8,421.2 734.8,423.0 737.9,424.7 740.9,426.5 743.9,428.2 746.9,430.0 749.9,431.7 753.0,433.4 756.0,435.1 759.0,436.9 762.0,438.6 765.0,440.3 766.8,441.3 768.1,442.0 771.1,443.7 774.1,445.5 777.1,447.2 780.1,448.8 783.2,450.5 786.2,452.2 789.2,453.9 792.2,455.5 795.2,457.2 798.3,458.8 801.3,460.5 804.3,462.1 807.3,463.7 810.3,465.3 813.4,467.0 816.4,468.6 819.4,470.2 822.4,471.8 825.4,473.4 828.5,475.1 831.5,476.7 834.5,478.3 837.5,479.9 840.5,481.5 843.5,483.1 846.6,484.8 849.6,486.4 850.1,486.6 852.6,488.0 855.6,489.6 858.6,491.2 859.8,491.9 861.7,492.9 864.7,494.6 867.7,496.2 870.7,497.9 873.7,499.5 876.8,501.2 879.8,502.9 882.8,504.5 885.8,506.2 888.8,507.9 891.9,509.6 894.9,511.3 897.9,513.1 900.9,514.8 903.9,516.6 907.0,518.5 910.0,520.3 913.0,522.2 916.0,524.1 919.0,526.0 922.1,528.0 925.1,530.1 928.1,532.1 929.5,533.2 931.1,534.3 934.1,536.5 937.2,538.8 940.2,541.2 943.2,543.6 946.2,546.2 949.2,548.7 952.2,551.3 955.3,554.0 958.3,556.6 961.3,559.3 964.3,562.0 967.3,564.7 970.4,567.3 973.4,570.0 975.8,572.1 976.4,572.6 979.4,575.2 982.4,577.7 985.5,580.3 988.5,582.8 991.5,585.4 994.5,587.9 997.5,590.4 1000.6,592.9 1003.6,595.5 1006.6,598.0 1009.6,600.6 1012.6,603.1 1015.7,605.7 1018.7,608.3 1021.7,611.0 1024.7,613.6 1027.7,616.3 1030.8,619.0 1033.8,621.8 1036.8,624.6 1039.8,627.4 1042.8,630.3 1045.9,633.2 1048.9,636.2 1051.9,639.2 1053.2,640.6 1054.9,642.3 1057.9,645.5 1061.0,648.7 1064.0,652.0 1067.0,655.4 1070.0,658.9 1073.0,662.4 1076.0,666.0 1079.1,669.6 1082.1,673.3 1085.1,677.0 1088.1,680.8 1091.1,684.5 1094.2,688.3 1095.9,690.5 1097.2,692.2 1100.2,696.1 1103.2,700.1 1106.2,704.1 1109.3,708.2 1112.3,712.4 1115.3,716.6 1118.3,720.8 1121.3,725.1 1124.4,729.4 1127.4,733.6 1130.4,737.9 1133.4,742.2 1136.4,746.4 1139.5,750.6 1140.1,751.4 1142.5,754.8 1145.5,759.0 1148.5,763.2 1151.5,767.4 1154.6,771.6 1157.6,775.8 1160.6,780.0 1163.6,784.1 1166.6,788.3 1169.7,792.4 1170.0,792.9 1172.7,796.5 1175.7,800.5 1178.7,804.5 1181.7,808.6 1184.4,812.1 1184.7,812.6 1187.8,816.7 1190.8,820.8 1193.8,824.9 1196.8,829.0 1199.8,833.1 1202.9,837.3 1205.9,841.5 1208.9,845.8 1209.1,846.1 1211.9,850.1 1214.9,854.5 1218.0,859.0 1218.7,860.1 1221.0,863.6 1224.0,868.3 1227.0,872.9 1230.0,877.6 1233.1,882.4 1236.1,887.1 1239.1,891.9 1242.1,896.7 1245.1,901.6 1248.2,906.4 1251.2,911.3 1254.2,916.2 1257.2,921.1 1260.2,926.1 1263.3,931.0 1266.3,936.0 1269.3,941.0 1272.3,946.0 1272.5,946.3 1275.3,951.0 1278.4,956.2 1281.4,961.3 1284.4,966.5 1287.4,971.7 1290.4,976.8 1293.4,981.8 1293.4,981.9 1296.5,986.9 1299.5,991.9 1302.5,996.9 1304.5,1000.2 1305.5,1001.9 1308.5,1007.0 1311.6,1012.1 1314.6,1017.2 1317.6,1022.4 1320.6,1027.5 1323.6,1032.7 1326.7,1037.9 1329.7,1043.1 1332.7,1048.3 1335.7,1053.4 1338.7,1058.6 1341.8,1063.8 1344.8,1068.9 1347.8,1074.0 1350.8,1079.1 1353.8,1084.2 1356.9,1089.2 1359.9,1094.3 1362.7,1098.9 1362.9,1099.2 1365.9,1104.2 1368.9,1109.1 1372.0,1113.9 1375.0,1118.7 1376.9,1121.7 1378.0,1123.4 1381.0,1128.1 1384.0,1132.6 1387.1,1137.2 1390.1,1141.6 1393.1,1146.1 1396.1,1150.6 1399.1,1155.0 1402.1,1159.5 1405.2,1164.1 1408.2,1168.7 1409.3,1170.4 1411.2,1173.3 1414.2,1178.0 1417.2,1182.7 1420.3,1187.4 1423.3,1192.2 1426.3,1196.9 1429.3,1201.7 1432.3,1206.5 1435.4,1211.3 1438.4,1216.1 1441.4,1220.9 1444.4,1225.8 1447.4,1230.7 1450.5,1235.6 1453.5,1240.5 1456.5,1245.5"/>
<polyline stroke="#000000" points="161.6,1285.3 164.6,1285.1 167.7,1285.0 170.7,1284.8 173.8,1284.6 176.8,1284.4 179.9,1284.3 182.9,1284.1 185.9,1283.9 189.0,1283.7 192.0,1283.4 195.1,1283.2 198.1,1283.0 200.0,1282.9 201.1,1282.8 204.2,1282.6 207.2,1282.4 210.3,1282.1 213.3,1281.9 216.4,1281.7 219.4,1281.4 222.4,1281.1 225.5,1280.9 228.5,1280.6 231.4,1280.3 231.6,1280.2 234.6,1279.9 237.7,1279.6 240.7,1279.2 243.7,1278.8 246.8,1278.4 249.8,1277.9 252.9,1277.4 255.9,1276.9 258.9,1276.3 261.4,1275.8 262.0,1275.7 265.0,1275.0 268.1,1274.1 271.1,1273.2 274.2,1272.2 277.2,1271.0 279.7,1270.1 280.2,1269.8 283.3,1268.5 286.3,1267.0 289.4,1265.4 292.4,1263.7 295.5,1261.9 298.5,1260.0 301.5,1258.1 301.8,1257.9 304.6,1256.2 307.6,1254.1 310.7,1251.9 311.4,1251.3 313.7,1249.4 316.8,1246.6 319.5,1243.9 319.8,1243.6 322.8,1240.5 325.9,1237.3 328.9,1234.1 332.0,1230.7 335.0,1227.2 338.0,1223.6 341.1,1219.9 344.1,1216.0 347.2,1211.9 350.2,1207.6 352.9,1203.7 353.3,1203.2 356.3,1198.5 359.3,1193.5 362.4,1188.2 365.4,1182.7 368.5,1177.0 371.5,1171.0 374.6,1164.7 377.6,1158.3 380.6,1151.6 383.7,1144.7 386.7,1137.5 389.8,1130.2 390.0,1129.7 392.8,1122.4 395.8,1114.1 398.9,1105.3 401.9,1096.1 405.0,1086.5 408.0,1076.6 411.1,1066.5 414.1,1056.2 417.1,1045.8 418.4,1041.3 420.2,1035.4 423.2,1024.7 426.3,1013.0 427.5,1007.8 429.3,999.6 432.4,984.1 435.4,967.8 436.8,960.5 438.4,951.9 441.5,936.2 444.5,920.4 447.6,904.4 450.6,888.2 451.0,885.9 453.6,871.6 456.7,854.6 459.7,837.5 462.8,820.2 465.8,803.0 466.8,797.5 468.9,786.1 471.9,769.0 472.8,763.9 474.9,750.0 478.0,729.4 479.8,716.8 481.0,707.4 484.1,684.0 487.1,659.5 489.2,642.0 490.2,634.1 493.2,606.9 496.2,579.3 499.1,554.8 499.3,553.6 502.3,530.5 503.8,520.1 505.4,510.2 508.4,492.2 511.5,474.5 511.6,473.6 514.5,456.0 517.5,437.3 520.6,418.7 523.6,400.8 524.1,398.1 526.7,384.0 529.7,368.0 532.7,352.1 535.8,335.7 537.2,327.9 538.8,316.9 539.9,311.3 541.9,304.7 542.1,304.1 544.9,298.4 547.3,294.7 548.0,293.7 551.0,289.8 554.0,293.1 557.0,296.3 560.0,299.6 563.0,302.8 566.1,306.1 569.1,309.4 572.1,312.7 575.1,315.9 578.1,319.2 581.1,322.5 584.1,325.8 586.3,328.2 587.1,329.0 590.1,332.4 593.1,335.7 596.2,339.0 599.2,342.3 600.3,343.5 602.2,345.4 605.2,348.6 608.2,351.8 611.2,354.9 614.2,358.1 617.2,361.2 620.2,364.2 623.2,367.3 626.3,370.3 629.3,373.3 632.3,376.2 635.3,379.1 638.3,382.0 640.3,383.9 641.3,384.8 644.3,387.5 647.3,390.3 650.3,392.9 653.4,395.5 656.4,398.0 659.4,400.4 660.6,401.3 662.4,402.7 665.4,404.9 668.4,407.0 671.4,409.1 674.4,411.1 677.4,413.0 680.4,415.0 683.5,416.9 686.5,418.7 689.5,420.6 692.5,422.5 695.5,424.3 698.5,426.2 699.9,427.1 701.5,428.1 704.5,430.0 707.5,431.9 710.5,433.8 713.6,435.6 716.6,437.5 719.6,439.3 722.6,441.1 723.3,441.5 725.6,442.8 728.6,444.5 731.6,446.3 734.6,447.9 737.6,449.6 740.6,451.3 743.7,452.9 746.7,454.6 749.7,456.2 752.7,457.8 755.7,459.4 758.7,461.0 761.7,462.7 764.7,464.3 767.7,465.9 770.1,467.2 770.8,467.5 773.8,469.1 776.8,470.7 779.8,472.3 782.8,473.8 785.8,475.4 788.8,476.9 791.8,478.4 794.8,480.0 797.8,481.5 800.9,483.0 803.9,484.6 806.9,486.1 809.9,487.6 812.9,489.2 815.9,490.8 818.9,492.4 821.9,494.0 824.9,495.6 827.9,497.3 831.0,499.0 834.0,500.7 837.0,502.5 837.1,502.5 840.0,504.3 843.0,506.1 846.0,508.1 849.0,510.1 849.9,510.6 852.0,512.1 855.0,514.2 858.1,516.3 861.1,518.5 864.1,520.6 867.1,522.9 870.1,525.1 873.1,527.4 876.1,529.7 879.1,532.0 882.1,534.3 885.1,536.6 888.2,539.0 891.2,541.4 892.7,542.6 894.2,543.8 897.2,546.2 900.2,548.6 903.2,551.1 906.2,553.6 909.2,556.1 912.2,558.6 915.2,561.2 918.3,563.8 921.3,566.4 924.3,569.0 927.3,571.6 928.2,572.4 930.3,574.3 933.3,576.9 936.3,579.5 939.3,582.2 942.3,584.9 945.4,587.5 948.4,590.2 951.4,592.9 954.4,595.6 957.4,598.4 960.4,601.1 963.4,603.8 966.4,606.6 969.4,609.4 972.4,612.2 975.5,615.0 978.5,617.8 981.5,620.7 984.5,623.5 987.5,626.4 990.5,629.3 993.5,632.3 996.5,635.2 999.5,638.2 1001.9,640.6 1002.5,641.2 1005.6,644.2 1008.6,647.3 1011.6,650.4 1014.6,653.6 1017.6,656.7 1020.6,660.0 1023.6,663.2 1026.6,666.5 1029.6,669.7 1032.6,673.0 1035.7,676.3 1038.7,679.7 1041.7,683.0 1044.7,686.3 1047.7,689.6 1048.3,690.3 1050.7,693.0 1053.7,696.3 1056.7,699.6 1059.7,703.0 1062.8,706.3 1065.8,709.7 1068.8,713.0 1071.8,716.4 1074.8,719.8 1077.8,723.2 1080.8,726.6 1083.8,730.0 1086.8,733.5 1089.8,736.9 1092.9,740.4 1095.9,743.9 1098.9,747.4 1101.9,750.9 1104.9,754.4 1107.9,758.0 1110.9,761.5 1113.9,765.1 1116.9,768.7 1118.3,770.4 1119.9,772.4 1123.0,776.1 1126.0,779.8 1129.0,783.6 1132.0,787.4 1135.0,791.3 1136.4,793.1 1138.0,795.2 1141.0,799.1 1144.0,803.1 1147.0,807.2 1150.1,811.1 1150.6,811.9 1153.1,815.1 1156.1,819.0 1159.1,822.8 1162.1,826.7 1165.1,830.5 1168.1,834.4 1171.1,838.3 1174.1,842.2 1177.0,846.0 1177.1,846.2 1180.2,850.1 1183.2,854.1 1186.2,858.2 1187.6,860.2 1189.2,862.4 1192.2,866.6 1195.2,870.9 1198.2,875.2 1201.2,879.5 1204.2,883.8 1207.2,888.2 1210.3,892.6 1213.3,897.1 1216.3,901.5 1219.3,906.0 1222.3,910.5 1225.3,915.1 1228.3,919.6 1231.3,924.1 1234.3,928.7 1237.4,933.3 1240.4,937.9 1243.4,942.4 1245.9,946.3 1246.4,947.0 1249.4,951.7 1252.4,956.3 1255.4,961.1 1258.4,965.8 1261.4,970.5 1264.4,975.3 1267.5,980.0 1268.7,981.9 1270.5,984.7 1273.5,989.4 1276.5,994.0 1279.5,998.7 1280.3,1000.0 1282.5,1003.3 1285.5,1007.9 1288.5,1012.6 1291.5,1017.2 1294.5,1021.8 1297.6,1026.4 1300.6,1030.9 1303.6,1035.5 1306.6,1040.1 1309.6,1044.7 1312.6,1049.2 1315.6,1053.8 1318.6,1058.4 1321.6,1063.0 1324.6,1067.5 1327.7,1072.1 1330.7,1076.7 1333.7,1081.3 1336.7,1085.9 1339.7,1090.4 1342.7,1095.1 1345.4,1099.1 1345.7,1099.7 1348.7,1104.3 1351.7,1108.9 1354.8,1113.5 1357.8,1118.2 1360.2,1121.9 1360.8,1122.8 1363.8,1127.4 1366.8,1132.0 1369.8,1136.6 1372.8,1141.2 1375.8,1145.8 1378.8,1150.4 1381.8,1155.0 1384.9,1159.8 1387.9,1164.6 1390.9,1169.5 1391.4,1170.4 1393.9,1174.5 1396.9,1179.6 1399.9,1184.8 1402.9,1190.0 1405.9,1195.3 1408.9,1200.6 1411.9,1206.0 1415.0,1211.5 1418.0,1217.0 1421.0,1222.6 1424.0,1228.3 1427.0,1234.0"/>
</g>
<g stroke="#000" stroke-width="4.0" fill="none" stroke-linecap="butt">
<line x1="161.6" y1="147.4" x2="161.6" y2="1287.3"/>
<line x1="159.6" y1="1285.3" x2="1573.2" y2="1285.3"/>
<line x1="161.6" y1="1285.3" x2="161.6" y2="1306.3"/>
<line x1="232.1" y1="1285.3" x2="232.1" y2="1295.8"/>
<line x1="302.6" y1="1285.3" x2="302.6" y2="1306.3"/>
<line x1="373.0" y1="1285.3" x2="373.0" y2="1295.8"/>
<line x1="443.5" y1="1285.3" x2="443.5" y2="1306.3"/>
<line x1="514.0" y1="1285.3" x2="514.0" y2="1295.8"/>
<line x1="584.5" y1="1285.3" x2="584.5" y2="1306.3"/>
<line x1="655.0" y1="1285.3" x2="655.0" y2="1295.8"/>
<line x1="725.4" y1="1285.3" x2="725.4" y2="1306.3"/>
<line x1="795.9" y1="1285.3" x2="795.9" y2="1295.8"/>
<line x1="866.4" y1="1285.3" x2="866.4" y2="1306.3"/>
<line x1="936.9" y1="1285.3" x2="936.9" y2="1295.8"/>
<line x1="1007.4" y1="1285.3" x2="1007.4" y2="1306.3"/>
<line x1="1077.8" y1="1285.3" x2="1077.8" y2="1295.8"/>
<line x1="1148.3" y1="1285.3" x2="1148.3" y2="1306.3"/>
<line x1="1218.8" y1="1285.3" x2="1218.8" y2="1295.8"/>
<line x1="1289.3" y1="1285.3" x2="1289.3" y2="1306.3"/>
<line x1="1359.8" y1="1285.3" x2="1359.8" y2="1295.8"/>
<line x1="1430.2" y1="1285.3" x2="1430.2" y2="1306.3"/>
<line x1="1500.7" y1="1285.3" x2="1500.7" y2="1295.8"/>
<line x1="1571.2" y1="1285.3" x2="1571.2" y2="1306.3"/>
<line x1="138.1" y1="1285.3" x2="161.6" y2="1285.3"/>
<line x1="149.6" y1="1204.2" x2="161.6" y2="1204.2"/>
<line x1="138.1" y1="1123.0" x2="161.6" y2="1123.0"/>
<line x1="149.6" y1="1041.9" x2="161.6" y2="1041.9"/>
<line x1="138.1" y1="960.8" x2="161.6" y2="960.8"/>
<line x1="149.6" y1="879.6" x2="161.6" y2="879.6"/>
<line x1="138.1" y1="798.5" x2="161.6" y2="798.5"/>
<line x1="149.6" y1="717.4" x2="161.6" y2="717.4"/>
<line x1="138.1" y1="636.2" x2="161.6" y2="636.2"/>
<line x1="149.6" y1="555.1" x2="161.6" y2="555.1"/>
<line x1="138.1" y1="473.9" x2="161.6" y2="473.9"/>
<line x1="149.6" y1="392.8" x2="161.6" y2="392.8"/>
<line x1="138.1" y1="311.7" x2="161.6" y2="311.7"/>
<line x1="149.6" y1="230.5" x2="161.6" y2="230.5"/>
<line x1="138.1" y1="149.4" x2="161.6" y2="149.4"/>
</g>
<text class="tick" text-anchor="middle" transform="translate(161.6 1360.3) scale(1 1.040)">0</text>
<text class="tick" text-anchor="middle" transform="translate(302.6 1360.3) scale(1 1.040)">10</text>
<text class="tick" text-anchor="middle" transform="translate(443.5 1360.3) scale(1 1.040)">20</text>
<text class="tick" text-anchor="middle" transform="translate(584.5 1360.3) scale(1 1.040)">30</text>
<text class="tick" text-anchor="middle" transform="translate(725.4 1360.3) scale(1 1.040)">40</text>
<text class="tick" text-anchor="middle" transform="translate(866.4 1360.3) scale(1 1.040)">50</text>
<text class="tick" text-anchor="middle" transform="translate(1007.4 1360.3) scale(1 1.040)">60</text>
<text class="tick" text-anchor="middle" transform="translate(1148.3 1360.3) scale(1 1.040)">70</text>
<text class="tick" text-anchor="middle" transform="translate(1289.3 1360.3) scale(1 1.040)">80</text>
<text class="tick" text-anchor="middle" transform="translate(1430.2 1360.3) scale(1 1.040)">90</text>
<text class="tick" text-anchor="middle" transform="translate(1571.2 1360.3) scale(1 1.040)">100</text>
<text class="tick" text-anchor="end" transform="translate(123.5 1299.8) scale(1 1.040)">0</text>
<text class="tick" text-anchor="end" transform="translate(123.5 1137.5) scale(1 1.040)">1</text>
<text class="tick" text-anchor="end" transform="translate(123.5 975.3) scale(1 1.040)">2</text>
<text class="tick" text-anchor="end" transform="translate(123.5 813.0) scale(1 1.040)">3</text>
<text class="tick" text-anchor="end" transform="translate(123.5 650.7) scale(1 1.040)">4</text>
<text class="tick" text-anchor="end" transform="translate(123.5 488.4) scale(1 1.040)">5</text>
<text class="tick" text-anchor="end" transform="translate(123.5 326.2) scale(1 1.040)">6</text>
<text class="tick" text-anchor="end" transform="translate(123.5 163.9) scale(1 1.040)">7</text>
<text class="lbl" text-anchor="middle" transform="translate(1009.3 70.8) scale(1 1.040)">CH<tspan font-size="41" dy="16.3">4</tspan><tspan dy="-16.3"> – air, T</tspan><tspan font-size="41" dy="16.3">0</tspan><tspan dy="-16.3"> = 323.15 K</tspan></text>
<text class="lbl" text-anchor="middle" transform="translate(865.5 1453.8) scale(1 1.040)">t [ms]</text>
<text class="lbl" text-anchor="middle" transform="translate(71.6 716.5) rotate(-90) scale(1 1.040)">P [bar]</text>
<rect x="1692.3" y="16" width="244.7" height="435.4" fill="#ffffff" stroke="#828282" stroke-width="2.4"/>
<rect x="1696.8" y="52.9" width="139.6" height="8.8" rx="2.6" fill="#0000ff"/>
<rect x="1696.8" y="138.3" width="139.6" height="8.8" rx="2.6" fill="#00f000"/>
<rect x="1696.8" y="223.8" width="139.6" height="8.8" rx="2.6" fill="#ff0000"/>
<rect x="1696.8" y="309.3" width="139.6" height="8.8" rx="2.6" fill="#ff8000"/>
<rect x="1696.8" y="394.9" width="139.6" height="8.8" rx="2.6" fill="#000000"/>
<text class="leg" text-anchor="start" transform="translate(1848.2 77.6) scale(1 1.040)">T<tspan font-size="40" dy="15.2">01</tspan></text>
<text class="leg" text-anchor="start" transform="translate(1848.2 163.0) scale(1 1.040)">T<tspan font-size="40" dy="15.2">02</tspan></text>
<text class="leg" text-anchor="start" transform="translate(1848.2 248.5) scale(1 1.040)">T<tspan font-size="40" dy="15.2">03</tspan></text>
<text class="leg" text-anchor="start" transform="translate(1848.2 334.0) scale(1 1.040)">T<tspan font-size="40" dy="15.2">04</tspan></text>
<text class="leg" text-anchor="start" transform="translate(1848.2 419.6) scale(1 1.040)">T<tspan font-size="40" dy="15.2">05</tspan></text>
</g>
</svg>
</body></html>
